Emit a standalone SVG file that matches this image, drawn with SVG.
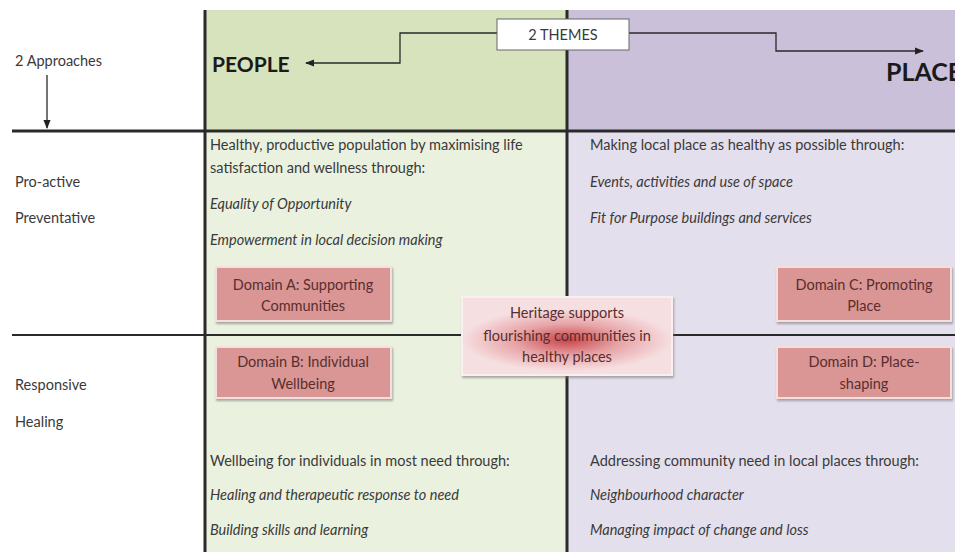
<svg xmlns="http://www.w3.org/2000/svg" width="955" height="552" viewBox="0 0 955 552">
<defs>
<style>
text{font-family:Lato,"Open Sans","Liberation Sans",sans-serif;font-size:14.5px;fill:#3a3a3a}
.it{font-style:italic}
.hd{font-weight:bold;font-size:21px;fill:#1a1a1a}
.dom{fill:#d99694;stroke:#f4dede;stroke-width:2;filter:url(#sh)}
.dt{text-anchor:middle;fill:#5a2e2e}
.ln{stroke:#2a2a2a;fill:none}
</style>
<filter id="sh" x="-10%" y="-10%" width="130%" height="140%">
<feDropShadow dx="1" dy="2" stdDeviation="1.2" flood-color="#777" flood-opacity="0.6"/>
</filter>
<radialGradient id="rg" cx="0.5" cy="0.55" r="0.5" gradientTransform="translate(0.5 0.55) scale(1 0.8) translate(-0.5 -0.55)">
<stop offset="0" stop-color="#c9444a"/>
<stop offset="0.5" stop-color="#e7a3a6"/>
<stop offset="1" stop-color="#f6dfe1"/>
</radialGradient>
<marker id="ah" viewBox="0 0 10 10" refX="9" refY="5" markerWidth="7" markerHeight="7" orient="auto-start-reverse">
<path d="M0,1 L10,5 L0,9 z" fill="#222"/>
</marker>
</defs>
<rect width="955" height="552" fill="#ffffff"/>
<g id="backgrounds">
<rect x="205" y="10" width="362" height="121" fill="#d7e3bd"/>
<rect x="567" y="10" width="388" height="121" fill="#cbc0d9"/>
<rect x="205" y="131" width="362" height="421" fill="#ebf1df"/>
<rect x="567" y="131" width="388" height="421" fill="#e4dfec"/>
</g>
<g id="grid">
<line class="ln" x1="205" y1="10" x2="205" y2="552" stroke-width="3"/>
<line class="ln" x1="567" y1="10" x2="567" y2="552" stroke-width="3"/>
<line class="ln" x1="12" y1="131" x2="955" y2="131" stroke-width="3"/>
<line class="ln" x1="12" y1="335" x2="955" y2="335" stroke-width="2"/>
</g>
<g id="connectors">
<line class="ln" x1="47" y1="75" x2="47" y2="128" stroke-width="1.3" marker-end="url(#ah)"/>
<polyline class="ln" points="497,33 400,33 400,63 306,63" stroke-width="1.3" marker-end="url(#ah)"/>
<polyline class="ln" points="629,33 776,33 776,51 923,51" stroke-width="1.3" marker-end="url(#ah)"/>
</g>
<g id="approaches">
<text x="15" y="66">2 Approaches</text>
<text x="15" y="187">Pro-active</text>
<text x="15" y="223">Preventative</text>
<text x="15" y="390">Responsive</text>
<text x="15" y="427">Healing</text>
</g>
<g id="themes">
<rect x="497" y="19" width="132" height="31" fill="#ffffff" stroke="#666" stroke-width="1"/>
<text x="563" y="40" text-anchor="middle">2 THEMES</text>
</g>
<g id="people">
<text class="hd" x="212" y="72">PEOPLE</text>
</g>
<g id="place">
<text class="hd" x="886" y="81" style="font-size:25px">PLACE</text>
</g>
<g id="people-proactive">
<text x="210" y="150">Healthy, productive population by maximising life</text>
<text x="210" y="173">satisfaction and wellness through:</text>
<text class="it" x="210" y="209">Equality of Opportunity</text>
<text class="it" x="210" y="245">Empowerment in local decision making</text>
</g>
<g id="place-proactive">
<text x="590" y="150">Making local place as healthy as possible through:</text>
<text class="it" x="590" y="187">Events, activities and use of space</text>
<text class="it" x="590" y="223">Fit for Purpose buildings and services</text>
</g>
<g id="people-responsive">
<text x="210" y="466">Wellbeing for individuals in most need through:</text>
<text class="it" x="210" y="500">Healing and therapeutic response to need</text>
<text class="it" x="210" y="535">Building skills and learning</text>
</g>
<g id="place-responsive">
<text x="590" y="466">Addressing community need in local places through:</text>
<text class="it" x="590" y="500">Neighbourhood character</text>
<text class="it" x="590" y="535">Managing impact of change and loss</text>
</g>
<g id="domain-a">
<rect class="dom" x="216" y="267" width="175" height="54"/>
<text class="dt" x="303" y="290">Domain A: Supporting</text>
<text class="dt" x="303" y="311">Communities</text>
</g>
<g id="domain-b">
<rect class="dom" x="216" y="347" width="175" height="51"/>
<text class="dt" x="303" y="367">Domain B: Individual</text>
<text class="dt" x="303" y="389">Wellbeing</text>
</g>
<g id="domain-c">
<rect class="dom" x="777" y="267" width="174" height="54"/>
<text class="dt" x="864" y="290">Domain C: Promoting</text>
<text class="dt" x="864" y="311">Place</text>
</g>
<g id="domain-d">
<rect class="dom" x="777" y="347" width="174" height="51"/>
<text class="dt" x="864" y="367">Domain D: Place-</text>
<text class="dt" x="864" y="389">shaping</text>
</g>
<g id="heritage">
<rect x="462" y="297" width="210" height="78" fill="url(#rg)" stroke="#fbeef0" stroke-width="2" filter="url(#sh)"/>
<text class="dt" x="567" y="318">Heritage supports</text>
<text class="dt" x="567" y="341">flourishing communities in</text>
<text class="dt" x="567" y="362">healthy places</text>
</g>
</svg>
